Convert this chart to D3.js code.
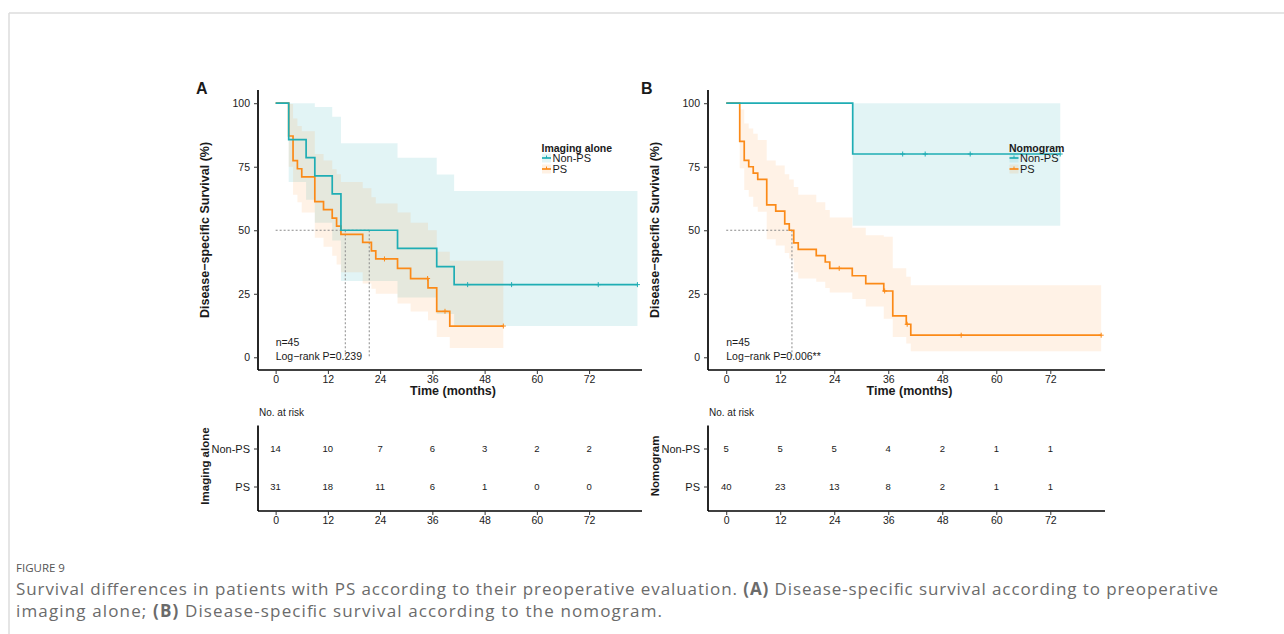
<!DOCTYPE html>
<html>
<head>
<meta charset="utf-8">
<script src="https://cdn.jsdelivr.net/npm/d3@7"></script>
<style>
  body { margin: 0; background: #fff; }
  svg text { font-family: "Liberation Sans", Arial, sans-serif; fill: #1a1a1a; }
  svg text.cap { font-family: "Open Sans", sans-serif; }
</style>
</head>
<body>
<svg id="fig" width="1284" height="634"></svg>
<script>
// ---- data ----
const months = [0, 12, 24, 36, 48, 60, 72];
const yTicks = [0, 25, 50, 75, 100];
const groups = ["Non-PS", "PS"];

// panel A : imaging alone
const aNonPsTime = [0, 3, 7, 9, 13, 15, 28, 37, 41, 83.1];
const aNonPsSurv = [100, 85.7, 78.6, 71.4, 64.3, 50, 42.9, 35.7, 28.6, 28.6];
const aNonPsCens = [44.1, 54.2, 74.1, 83.1];
const aNonPsCiTime = [3, 7, 9, 13, 15, 28, 37, 41, 83.1];
const aNonPsUpper = [100, 100, 98.5, 94.7, 84.2, 78.5, 71.9, 65.4, 65.4];
const aNonPsLower = [69, 62, 53, 46, 30, 23.5, 17, 12.3, 12.3];
const aPsTime = [0, 3, 4, 5, 6, 9, 11, 13, 14, 15, 20, 22, 23, 28, 31, 35, 37, 40, 52.3];
const aPsSurv = [100, 87.1, 77.4, 74.2, 71.0, 61.3, 58.1, 54.8, 51.6, 48.4, 45.2, 41.9, 38.7, 35.0, 31.0, 27.3, 18.1, 12.3, 12.3];
const aPsCens = [25, 34.9, 38.9, 52.3];
const aPsCiTime = [3, 4, 5, 6, 9, 11, 13, 14, 15, 20, 22, 23, 28, 31, 35, 37, 40, 52.3];
const aPsUpper = [99.7, 94, 91, 89, 80, 77.5, 74, 72, 69, 66.5, 63, 60.5, 57, 53, 50, 41.5, 38, 38];
const aPsLower = [75, 64, 61, 57, 47, 43.5, 40, 36.5, 33.5, 29, 27, 25, 21.2, 18, 14.6, 8, 3.7, 3.7];
const aMedians = [16, 21.5];
const aRiskNonPs = [14, 10, 7, 6, 3, 2, 2];
const aRiskPs = [31, 18, 11, 6, 1, 0, 0];

// panel B : nomogram
const bNonPsTime = [0, 28.1, 74.2];
const bNonPsSurv = [100, 80, 80];
const bNonPsCens = [39.2, 44.2, 54.2, 74.2];
const bNonPsCiTime = [28.1, 74.2];
const bNonPsUpper = [100, 100];
const bNonPsLower = [51.8, 51.8];
const bPsTime = [0, 3, 4, 5, 6, 7, 9, 11, 13, 14, 15, 16, 20, 22, 23, 28, 31, 35, 37, 40, 41, 83.3];
const bPsSurv = [100, 85, 77.5, 75, 72.5, 70, 60, 57.5, 52.5, 50, 45, 42.5, 40, 37.5, 35, 32.1, 29, 26.1, 16.3, 13, 8.7, 8.7];
const bPsCens = [25.1, 35.2, 40.2, 52.2, 83.3];
const bPsCiTime = [3, 4, 5, 6, 7, 9, 11, 13, 14, 15, 16, 20, 22, 23, 28, 31, 35, 37, 40, 41, 83.3];
const bPsUpper = [97.5, 92, 90, 88, 85.5, 77.5, 75.5, 72, 70, 67, 64, 61, 58, 55, 51, 48, 47.4, 35, 31.7, 28.4, 28.4];
const bPsLower = [74.4, 65.8, 63.2, 59.2, 57.3, 46.5, 44, 41, 38.9, 33.5, 31, 29.7, 27.3, 25.5, 22.9, 20, 15.2, 8, 5.4, 2.4, 2.4];
const bMedians = [14.6];
const bRiskNonPs = [5, 5, 5, 4, 2, 1, 1];
const bRiskPs = [40, 23, 13, 8, 2, 1, 1];

const colors = { "Non-PS": "#1fadb4", "PS": "#fb8a18" };
const bandOpacity = { "Non-PS": 0.13, "PS": 0.11 };

const svg = d3.select("#fig");

// card border
svg.append("line").attr("x1", 9).attr("x2", 1284).attr("y1", 13).attr("y2", 13)
  .attr("stroke", "#dcdcdc").attr("stroke-width", 1.5);
svg.append("line").attr("x1", 9).attr("x2", 9).attr("y1", 13).attr("y2", 634)
  .attr("stroke", "#dcdcdc").attr("stroke-width", 1.5);

function zip(t, v) { return t.map((d, i) => [d, v[i]]); }

function styleAxis(a) {
  a.select(".domain").attr("stroke", "#000").attr("stroke-width", 1.7);
  a.selectAll(".tick line").attr("stroke", "#333");
  a.selectAll(".tick text").attr("font-size", 10.5).attr("fill", "#222")
    .attr("font-family", "Liberation Sans, Arial, sans-serif");
}

function drawPanel(p) {
  const x = d3.scaleLinear().domain([-4.05, 84.15]).range([p.left, p.right]);
  const y = d3.scaleLinear().domain([-5, 105]).range([370, 90.5]);
  const g = svg.append("g");

  // panel letter
  g.append("text").attr("x", p.letterX).attr("y", 94).text(p.letter)
    .attr("font-size", 16).attr("font-weight", "bold").attr("fill", "#000");

  // confidence bands
  const area = d3.area().curve(d3.curveStepAfter)
    .x(d => x(d[0])).y0(d => y(d[2])).y1(d => y(d[1]));
  p.series.forEach(s => {
    const rows = s.ciTime.map((t, i) => [t, s.upper[i], s.lower[i]]);
    g.append("path").datum(rows).attr("d", area)
      .attr("fill", colors[s.name]).attr("fill-opacity", bandOpacity[s.name]);
  });

  // median guides
  const midY = y(50);
  const lastMed = d3.max(p.medians);
  g.append("line").attr("x1", x(0)).attr("x2", x(lastMed)).attr("y1", midY).attr("y2", midY)
    .attr("stroke", "#8a8a8a").attr("stroke-dasharray", "2,2").attr("stroke-width", 1);
  p.medians.forEach(m => {
    g.append("line").attr("x1", x(m)).attr("x2", x(m)).attr("y1", midY).attr("y2", y(0))
      .attr("stroke", "#8a8a8a").attr("stroke-dasharray", "2,2").attr("stroke-width", 1);
  });

  // survival curves
  const line = d3.line().curve(d3.curveStepAfter).x(d => x(d[0])).y(d => y(d[1]));
  p.series.slice().reverse().forEach(s => {
    const pts = zip(s.time, s.surv);
    g.append("path").datum(pts).attr("d", line)
      .attr("fill", "none").attr("stroke", colors[s.name]).attr("stroke-width", 1.7);
    const at = t => s.surv[d3.bisectRight(s.time, t) - 1];
    g.selectAll(null).data(s.cens).join("path")
      .attr("d", t => `M${x(t) - 2.5},${y(at(t))}h5M${x(t)},${y(at(t)) - 2.5}v5`)
      .attr("stroke", colors[s.name]).attr("stroke-width", 1);
  });

  // axes
  const xAxis = g.append("g").attr("transform", "translate(0,370)")
    .call(d3.axisBottom(x).tickValues(months).tickSize(4).tickSizeOuter(0));
  const yAxis = g.append("g").attr("transform", `translate(${p.left},0)`)
    .call(d3.axisLeft(y).tickValues(yTicks).tickSize(4).tickSizeOuter(0));
  styleAxis(xAxis);
  styleAxis(yAxis);
  xAxis.selectAll(".tick text").attr("dy", "0.6em");
  yAxis.selectAll(".tick text").attr("dx", "-1");
  xAxis.select(".domain").attr("d", `M${p.left},0H${p.right}`);
  yAxis.select(".domain").attr("d", `M0,90H0V370`);

  g.append("text").attr("x", (p.left + p.right) / 2 + 3).attr("y", 395).attr("text-anchor", "middle")
    .attr("font-size", 12.5).attr("font-weight", "bold").text("Time (months)");
  g.append("text").attr("transform", `translate(${p.left - 49},230) rotate(-90)`)
    .attr("text-anchor", "middle").attr("font-size", 12.5).attr("font-weight", "bold")
    .text("Disease\u2212specific Survival (%)");

  // annotations
  g.append("text").attr("x", x(0)).attr("y", 346).attr("font-size", 10.5).text("n=45");
  g.append("text").attr("x", x(0)).attr("y", 359.5).attr("font-size", 10.5).text(p.pText);

  // legend
  const lg = g.append("g").attr("transform", `translate(${p.legendX},0)`);
  lg.append("text").attr("x", 0).attr("y", 152).attr("font-size", 10.5).attr("font-weight", "bold")
    .attr("fill", "#000").text(p.legendTitle);
  groups.forEach((name, i) => {
    const cy = 158 + i * 11;
    lg.append("rect").attr("x", 0.5).attr("y", cy - 4.5).attr("width", 9).attr("height", 9)
      .attr("fill", colors[name]).attr("fill-opacity", 0.12);
    lg.append("line").attr("x1", 0.5).attr("x2", 9.5).attr("y1", cy).attr("y2", cy)
      .attr("stroke", colors[name]).attr("stroke-width", 1.7);
    lg.append("line").attr("x1", 5).attr("x2", 5).attr("y1", cy - 2.5).attr("y2", cy)
      .attr("stroke", colors[name]).attr("stroke-width", 1);
    lg.append("text").attr("x", 11).attr("y", cy + 4).attr("font-size", 11).text(name);
  });

  // risk table
  const ry = d3.scalePoint().domain(groups).range([448.5, 486.5]);
  g.append("text").attr("x", p.left + 1).attr("y", 415.5).attr("font-size", 10).text("No. at risk");
  const rx = g.append("g").attr("transform", "translate(0,511)")
    .call(d3.axisBottom(x).tickValues(months).tickSize(4).tickSizeOuter(0));
  const rAxisY = g.append("g").attr("transform", `translate(${p.left},0)`)
    .call(d3.axisLeft(ry).tickSize(4).tickSizeOuter(0));
  styleAxis(rx);
  styleAxis(rAxisY);
  rx.selectAll(".tick text").attr("dy", "0.6em");
  rAxisY.selectAll(".tick text").attr("font-size", 11).attr("dx", "-1");
  rx.select(".domain").attr("d", `M${p.left},0H${p.right}`);
  rAxisY.select(".domain").attr("d", `M0,425.5H0V511`);
  const riskRows = [[groups[0], p.riskNonPs], [groups[1], p.riskPs]];
  riskRows.forEach(([name, vals]) => {
    g.selectAll(null).data(vals).join("text")
      .attr("x", (d, i) => x(months[i])).attr("y", ry(name) + 3.5)
      .attr("text-anchor", "middle").attr("font-size", 9.5).text(d => d);
  });
  g.append("text").attr("transform", `translate(${p.left - 49},466) rotate(-90)`)
    .attr("text-anchor", "middle").attr("font-size", 11.5).attr("font-weight", "bold")
    .text(p.legendTitle);
}

drawPanel({
  left: 258, right: 642, letter: "A", letterX: 196,
  legendTitle: "Imaging alone", legendX: 541.5, pText: "Log\u2212rank P=0.239",
  medians: aMedians, riskNonPs: aRiskNonPs, riskPs: aRiskPs,
  series: [
    { name: "Non-PS", time: aNonPsTime, surv: aNonPsSurv, cens: aNonPsCens,
      ciTime: aNonPsCiTime, upper: aNonPsUpper, lower: aNonPsLower },
    { name: "PS", time: aPsTime, surv: aPsSurv, cens: aPsCens,
      ciTime: aPsCiTime, upper: aPsUpper, lower: aPsLower }
  ]
});

drawPanel({
  left: 708, right: 1105, letter: "B", letterX: 641,
  legendTitle: "Nomogram", legendX: 1009, pText: "Log\u2212rank P=0.006**",
  medians: bMedians, riskNonPs: bRiskNonPs, riskPs: bRiskPs,
  series: [
    { name: "Non-PS", time: bNonPsTime, surv: bNonPsSurv, cens: bNonPsCens,
      ciTime: bNonPsCiTime, upper: bNonPsUpper, lower: bNonPsLower },
    { name: "PS", time: bPsTime, surv: bPsSurv, cens: bPsCens,
      ciTime: bPsCiTime, upper: bPsUpper, lower: bPsLower }
  ]
});

// caption
svg.append("text").attr("class", "cap").attr("x", 16).attr("y", 572)
  .attr("font-size", 11.5).style("fill", "#555").text("FIGURE 9");
const cap1 = svg.append("text").attr("class", "cap").attr("x", 16).attr("y", 595)
  .attr("font-size", 17).attr("textLength", 1202).attr("lengthAdjust", "spacing")
  .style("fill", "#6b6b6b");
cap1.append("tspan").text("Survival differences in patients with PS according to their preoperative evaluation. ");
cap1.append("tspan").attr("font-weight", "bold").text("(A)");
cap1.append("tspan").text(" Disease-specific survival according to preoperative");
const cap2 = svg.append("text").attr("class", "cap").attr("x", 16).attr("y", 617)
  .attr("font-size", 17).attr("textLength", 646).attr("lengthAdjust", "spacing")
  .style("fill", "#6b6b6b");
cap2.append("tspan").text("imaging alone; ");
cap2.append("tspan").attr("font-weight", "bold").text("(B)");
cap2.append("tspan").text(" Disease-specific survival according to the nomogram.");
</script>
</body>
</html>
